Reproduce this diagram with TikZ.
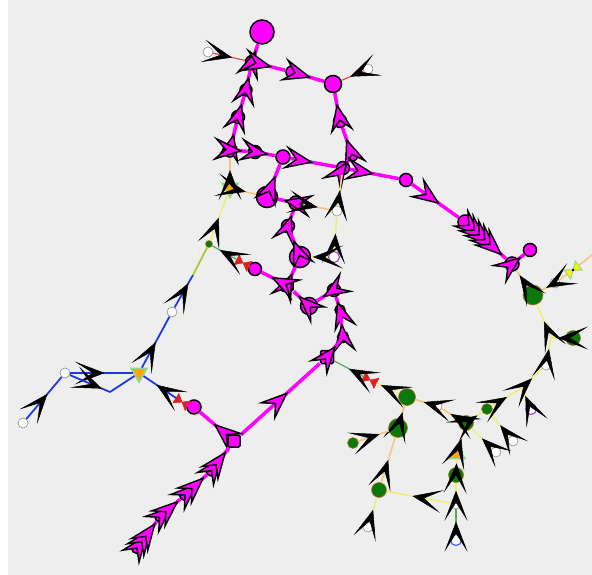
\documentclass[tikz,border=0pt]{standalone}
\usepackage{tikz}
\usetikzlibrary{arrows.meta,shapes.geometric,decorations.markings}
\definecolor{canvas}{HTML}{EEEEEE}
\definecolor{pipemag}{HTML}{FF00FF}
\definecolor{pipeblue}{HTML}{2038E0}
\definecolor{pipeyel}{HTML}{EEEE77}
\definecolor{pipeora}{HTML}{F5C57A}
\definecolor{pipegrn}{HTML}{5BAA5B}
\definecolor{pipered}{HTML}{E05050}
\definecolor{pipeyg}{HTML}{AACC33}
\definecolor{jgreen}{HTML}{0A780A}
\definecolor{jrim}{HTML}{B07A2A}
\definecolor{jviolet}{HTML}{A040D0}
\definecolor{jblue}{HTML}{3355EE}
\definecolor{tankfill}{HTML}{FFA500}
\definecolor{tankrim}{HTML}{90D890}
\definecolor{valvered}{HTML}{E02020}
\tikzset{
  mtip/.tip = {Stealth[length=30pt, width=24pt, inset=12pt, line width=1.4pt, color=black, fill=pipemag]},
  ktip/.tip = {Stealth[length=30pt, width=23pt, inset=18pt, line width=0.5pt, color=black, fill=black]},
  mflow/.style  = {postaction={decorate, decoration={markings, mark=at position #1 with {\arrow{mtip}}}}},
  mflow/.default = 0.5,
  kflow/.style  = {postaction={decorate, decoration={markings, mark=at position #1 with {\arrow{ktip}}}}},
  kflow/.default = 0.5,
  pmag/.style   = {draw=pipemag, line width=3.5pt},
  pblue/.style  = {draw=pipeblue, line width=1.8pt},
  pyel/.style   = {draw=pipeyel, line width=1.5pt},
  pora/.style   = {draw=pipeora, line width=1.5pt},
  pgrn/.style   = {draw=pipegrn, line width=1.2pt},
  pred/.style   = {draw=pipered, line width=1.2pt},
  pyg/.style    = {draw=pipeyg, line width=1.8pt},
  mj/.style     = {circle, draw=black, line width=1.5pt, fill=pipemag, inner sep=0pt, minimum size=#1},
  mj/.default   = 13pt,
  mjsq/.style   = {rectangle, rounded corners=1.5pt, draw=black, line width=1.5pt, fill=pipemag,
                   inner sep=0pt, minimum size=#1},
  gj/.style     = {circle, draw=jrim, line width=0.6pt, fill=jgreen, inner sep=0pt, minimum size=#1},
  wj/.style     = {circle, draw=black!45, line width=0.6pt, fill=white, inner sep=0pt, minimum size=10pt},
  oj/.style     = {circle, draw=#1, line width=1.1pt, fill=white, inner sep=0pt, minimum size=11pt},
  tank/.style   = {regular polygon, regular polygon sides=3, draw=tankrim, line width=1.8pt,
                   fill=tankfill, inner sep=0pt, minimum size=18pt},
  valvebox/.style = {rectangle, inner sep=0pt, minimum width=14pt, minimum height=11pt},
}
\newcommand{\valvefill}[2]{\filldraw[#2] (#1.north west) -- (#1.south east) -- (#1.north east) -- (#1.south west) -- cycle;}

\begin{document}
\begin{tikzpicture}[x=1pt, y=-1pt]
  \useasboundingbox (0,0) rectangle (592,575);
  \fill[white] (0,0) rectangle (592,575);
  \fill[canvas] (8,0) rectangle (592,575);

  % magenta main
  \node[mj=24pt] (A0) at (262,32) {};
  \node[mj] (A1) at (252,62) {};
  \node[mj=12pt] (A2) at (292,72) {};
  \node[mj=17pt] (A3) at (333,84) {};
  \node[mj=12pt] (A4) at (246,90) {};
  \node[mj] (A5) at (238,117) {};
  \node[mj=14pt] (A6) at (230,150) {};
  \node[mj] (A7) at (340,121) {};
  \node[mj=12pt] (A8) at (352,155) {};
  \node[mj] (A9) at (255,152) {};
  \node[mj=14pt] (A10) at (283,157) {};
  \node[mj] (A11) at (343,168) {};
  \node[mj] (A12) at (406,180) {};
  \node[mj=14pt] (A13) at (465,222) {};
  \node[mj=14pt] (A15) at (512,264) {};
  \node[mj] (A14) at (530,250) {};
  \node[mj=21pt] (A16) at (267,197) {};
  \node[mj=14pt] (A17) at (296,203) {};
  \node[mj] (A18) at (288,226) {};
  \node[mj=21pt] (A19) at (300,257) {};
  \node[mj] (A20) at (255,269) {};
  \node[mjsq=12pt] (A20b) at (287,285) {};
  \node[mj=17pt] (A21) at (309,306) {};
  \node[mj] (A22) at (334,290) {};
  \node[mj=10pt] (A23a) at (340,310) {};
  \node[mj=11pt] (A23) at (343,337) {};
  \node[mjsq=13pt] (A24) at (327,357) {};
  \node[mjsq=12pt] (A25) at (234,441) {};
  \node[mj=14pt] (A26) at (194,407) {};
  \node[mj=12pt] (A27) at (212,470) {};
  \node[mj=11pt] (A28) at (185,495) {};
  \node[mj=10pt] (A29) at (160,517) {};
  \node[mj=11pt] (A30) at (137,548) {};

  % plain junctions
  \node[wj] (Wa) at (208,52) {};
  \node[wj] (Wb) at (368,69) {};
  \node[wj] (Wc) at (337,211) {};
  \node[wj] (Wd) at (437,406) {};
  \node[wj] (We) at (368,527) {};
  \node[wj] (Wf) at (513,441) {};
  \node[wj] (Wg) at (496,452) {};
  \node[wj] (Wh) at (456,504) {};
  \node[wj] (Wi) at (546,365) {};
  \node[wj] (Wj) at (555,283) {};
  \node[wj] (Wl1) at (23,423) {};
  \node[wj] (Wl2) at (65,373) {};
  \node[wj] (Wl3) at (172,312) {};
  \node[oj=jviolet] (Po1) at (334,257) {};
  \node[oj=jviolet] (Po2) at (531,409) {};
  \node[oj=jblue] (Pb) at (456,540) {};

  % green junctions
  \node[gj=7pt] (G0) at (209,244) {};
  \node[gj=20pt] (G1) at (533,295) {};
  \node[gj=15pt] (G2) at (573,338) {};
  \node[gj=17pt] (G3) at (407,397) {};
  \node[gj=19pt] (G4) at (398,428) {};
  \node[gj=11pt] (G5) at (353,443) {};
  \node[gj=15pt] (G6) at (379,490) {};
  \node[gj=15pt] (G7) at (466,423) {};
  \node[gj=11pt] (G8) at (487,409) {};
  \node[gj=15pt] (G9) at (456,475) {};

  % tanks, pump and valves
  \node[tank, shape border rotate=180] (T1) at (230,188) {};
  \node[tank, shape border rotate=180] (T2) at (139,373) {};
  \node[tank] (T3) at (457,454) {};
  \node[valvebox, rotate=37] (T4) at (573,270) {};
  \valvefill{T4}{fill=yellow, draw=tankrim, line width=1pt}
  \fill[black] (T4) circle (1.4pt);
  \node[valvebox, rotate=-28] (V1) at (243,263) {};
  \valvefill{V1}{valvered}
  \node[valvebox, rotate=-27] (V2) at (370,380) {};
  \valvefill{V2}{valvered}
  \node[valvebox, rotate=-32] (V3) at (182,402) {};
  \valvefill{V3}{valvered}

  \coordinate (K0) at (110,392);
  \coordinate (K1) at (522,388);
  \coordinate (K2) at (551,338);
  \coordinate (K3) at (193,275);
  \coordinate (E1) at (592,255);

  % magenta pipes
  \draw[pmag, mflow] (A1) -- (A0);
  \draw[pmag, mflow] (A4) -- (A1);
  \draw[pmag, mflow] (A5) -- (A4);
  \draw[pmag, mflow] (A6) -- (A5);
  \draw[pmag, mflow] (A1) -- (A2);
  \draw[pmag, mflow] (A2) -- (A3);
  \draw[pmag, mflow] (A7) -- (A3);
  \draw[pmag, mflow] (A8) -- (A7);
  \draw[pmag, mflow] (A11) -- (A8);
  \draw[pmag, mflow] (A6) -- (A9);
  \draw[pmag, mflow] (A9) -- (A10);
  \draw[pmag, mflow] (A10) -- (A11);
  \draw[pmag, mflow] (A11) -- (A12);
  \draw[pmag, mflow=0.6] (A12) -- (A13);
  \draw[pmag, mflow=0.3, mflow=0.45, mflow=0.6, mflow=0.75, mflow=0.9] (A13) -- (A15);
  \draw[pmag, mflow] (A15) -- (A14);
  \draw[pmag, mflow] (A16) -- (A10);
  \draw[pmag, mflow] (A17) -- (A16);
  \draw[pmag, mflow] (A18) -- (A17);
  \draw[pmag, mflow] (A19) -- (A18);
  \draw[pmag, mflow] (A20b) -- (A19);
  \draw[pmag, mflow] (A20b) -- (A20);
  \draw[pmag, mflow] (A21) -- (A20b);
  \draw[pmag, mflow] (A22) -- (A21);
  \draw[pmag, mflow] (A23a) -- (A22);
  \draw[pmag, mflow] (A23) -- (A23a);
  \draw[pmag, mflow] (A24) -- (A23);
  \draw[pmag, mflow=0.6] (A25) -- (A24);
  \draw[pmag, mflow] (A25) -- (A26);
  \draw[pmag, mflow=0.45, mflow=0.8] (A27) -- (A25);
  \draw[pmag, mflow=0.45, mflow=0.85] (A28) -- (A27);
  \draw[pmag, mflow=0.5, mflow=0.9] (A29) -- (A28);
  \draw[pmag, mflow=0.4, mflow=0.7, mflow=0.95] (A30) -- (A29);
  \draw[pmag] (A26) -- (V3);

  % left side pipes
  \draw[pred, kflow=0.6] (Wa) -- (A1);
  \draw[pred, kflow=0.6] (Wb) -- (A3);
  \draw[pora, kflow] (T1) -- (A6);
  \draw[pora, kflow] (T1) -- (A16);
  \draw[pyel, kflow] (G0) -- (T1);
  \draw[pgrn] (A20) -- (V1);
  \draw[pgrn, kflow=0.7] (V1) -- (G0);
  \draw[pblue, kflow=0.75] (Wl3) -- (K3);
  \draw[pyg] (K3) -- (G0);
  \draw[pblue, kflow] (T2) -- (Wl3);
  \draw[pblue, kflow=0.55] (Wl2) -- (T2);
  \draw[pblue, kflow=0.8] (Wl2) -- (K0);
  \draw[pblue] (K0) -- (T2);
  \draw[pblue, kflow=0.6] (Wl1) -- (Wl2);
  \draw[pblue, kflow=0.6] (V3) -- (T2);

  % middle thin pipes
  \draw[pora, kflow] (A17) -- (Wc);
  \draw[pyel, kflow] (Wc) -- (A11);
  \draw[pyel, kflow] (Po1) -- (Wc);
  \draw[pyel, kflow=0.9] (Po1) -- (A19);
  \draw[pgrn, kflow] (V2) -- (A24);

  % right side pipes
  \draw[pyel, kflow=0.8] (G3) -- (V2);
  \draw[pora, kflow] (Wd) -- (G3);
  \draw[pora, kflow] (G4) -- (G3);
  \draw[pora, kflow=0.7] (G5) -- (G4);
  \draw[pora, kflow] (G6) -- (G4);
  \draw[pyel, kflow] (We) -- (G6);
  \draw[pyel, kflow=0.6] (Wh) -- (G6);
  \draw[pgrn, kflow] (Pb) -- (Wh);
  \draw[pyel, kflow] (Wh) -- (G9);
  \draw[pyel, kflow] (G9) -- (T3);
  \draw[pora, kflow] (T3) -- (G7);
  \draw[pora, kflow] (G7) -- (Wd);
  \draw[pyel, kflow] (Wg) -- (G7);
  \draw[pyel, kflow] (G7) -- (G8);
  \draw[pyel, kflow] (Wf) -- (G8);
  \draw[pyel, kflow] (G8) -- (K1);
  \draw[pyel, kflow] (Po2) -- (K1);
  \draw[pyel, kflow] (K1) -- (Wi);
  \draw[pyel, kflow] (Wi) -- (K2);
  \draw[pyel, kflow] (G2) -- (K2);
  \draw[pyel, kflow] (K2) -- (G1);
  \draw[pora, kflow=0.7] (G1) -- (A15);
  \draw[pora, kflow] (Wj) -- (G1);
  \draw[pora] (T4) -- (Wj);
  \draw[pora] (E1) -- (T4);
\end{tikzpicture}
\end{document}
